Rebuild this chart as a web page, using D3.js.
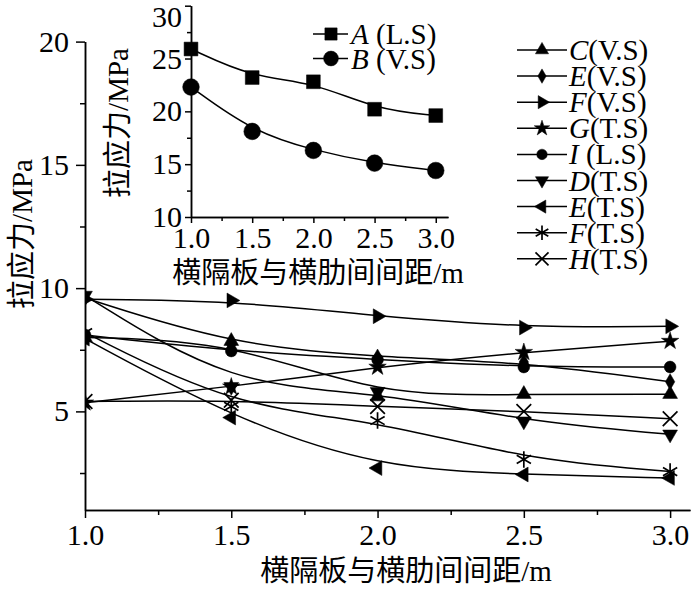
<!DOCTYPE html>
<html lang="zh">
<head>
  <meta charset="UTF-8">
  <title>拉应力 vs 间距</title>
  <script src="https://cdn.jsdelivr.net/npm/d3@7/dist/d3.min.js"></script>
  <style>
    body { margin: 0; background: #fff; }
    svg text { font-family: "Liberation Serif", "Noto Sans CJK SC", serif; fill: #000; }
    .axis path, .axis line { fill: none; stroke: #000; stroke-width: 1.5px; }
    .axis text { font-family: "Liberation Serif", serif; font-size: 30px; }
  </style>
</head>
<body>
<script>
// x values: spacing between diaphragm and cross rib (m)
var spacing = [1.0, 1.5, 2.0, 2.5, 3.0];

// main chart series (MPa)
var cVS = [8.0, 7.85, 5.6, 5.7, 5.7];
var eVS = [9.6, 7.7, 7.2, 7.0, 6.2];
var fVS = [9.55, 9.5, 8.86, 8.4, 8.45];
var gTS = [5.35, 6.0, 6.8, 7.4, 7.85];
var iLS = [8.1, 7.45, 7.1, 6.8, 6.8];
var dTS = [9.7, 6.0, 5.8, 4.6, 4.07];
var eTS = [7.95, 4.75, 2.7, 2.44, 2.3];
var fTS = [8.2, 5.2, 4.63, 3.05, 2.56];
var hTS = [5.4, 5.45, 5.2, 5.0, 4.7];

var seriesLetters = ["C", "E", "F", "G", "I", "D", "E", "F", "H"];
var seriesTags = ["(V.S)", "(V.S)", "(V.S)", "(T.S)", " (L.S)", "(T.S)", "(T.S)", "(T.S)", "(T.S)"];
var seriesMarks = ["up", "diamond", "right", "star", "circle", "down", "left", "asterisk", "times"];
var seriesValues = [cVS, eVS, fVS, gTS, iLS, dTS, eTS, fTS, hTS];

// inset series
var aLS = [25.9, 23.2, 22.8, 20.2, 19.6];
var bVS = [22.3, 18.1, 16.3, 15.1, 14.4];
var insetLetters = ["A", "B"];
var insetTags = [" (L.S)", " (V.S)"];
var insetMarks = ["square", "circle"];
var insetValues = [aLS, bVS];

// tick labels
var xTicks = [1.0, 1.5, 2.0, 2.5, 3.0];
var xMinor = [1.25, 1.75, 2.25, 2.75];
var yTicks = [5, 10, 15, 20];
var yMinor = [2.5, 7.5, 12.5, 17.5];
var insetYTicks = [10, 15, 20, 25, 30];
var insetYMinor = [12.5, 17.5, 22.5, 27.5];
var xTitle = "横隔板与横肋间间距/m";
var yTitle = "拉应力/MPa";

var w = 700, h = 590;
var svg = d3.select("body").append("svg").attr("width", w).attr("height", h);

// symbol helper, size is roughly the d3 area for filled shapes
function marker(sel, kind, size) {
  var type = d3.symbolTriangle, rot = 0, stroked = false, s = size;
  if (kind == "down") rot = 180;
  if (kind == "right") rot = 90;
  if (kind == "left") rot = -90;
  if (kind == "diamond") { type = d3.symbolDiamond; s = size * 0.8; }
  if (kind == "star") { type = d3.symbolStar; s = size * 1.0; }
  if (kind == "circle") { type = d3.symbolCircle; s = size * 1.15; }
  if (kind == "square") type = d3.symbolSquare;
  if (kind == "asterisk") { type = d3.symbolAsterisk; stroked = true; s = size * 2.0; }
  if (kind == "times") { type = d3.symbolTimes; stroked = true; s = size * 1.5; }
  sel.attr("d", d3.symbol().type(type).size(s)())
    .attr("transform", function() { return d3.select(this).attr("transform") + " rotate(" + rot + ")"; })
    .attr("fill", stroked ? "none" : "#000")
    .attr("stroke", "#000")
    .attr("stroke-width", stroked ? 1.7 : 0.5);
}

// ---------- main chart ----------
var xScale = d3.scaleLinear().domain([1, 3.068]).range([85, 690]);
var yScale = d3.scaleLinear().domain([1, 20]).range([510, 41.6]);

svg.append("g").attr("class", "axis")
  .attr("transform", "translate(0,510)")
  .call(d3.axisBottom(xScale).tickValues(xTicks).tickFormat(d3.format(".1f")).tickSize(8).tickSizeOuter(0).tickPadding(6));
svg.append("g").attr("class", "axis")
  .attr("transform", "translate(0,510)")
  .call(d3.axisBottom(xScale).tickValues(xMinor).tickFormat("").tickSize(5).tickSizeOuter(0));
svg.append("g").attr("class", "axis")
  .attr("transform", "translate(85,0)")
  .call(d3.axisLeft(yScale).tickValues(yTicks).tickSize(9).tickSizeOuter(0).tickPadding(7));
svg.append("g").attr("class", "axis")
  .attr("transform", "translate(85,0)")
  .call(d3.axisLeft(yScale).tickValues(yMinor).tickFormat("").tickSize(5).tickSizeOuter(0));

svg.append("defs").append("clipPath").attr("id", "plotclip")
  .append("rect").attr("x", 85).attr("y", 0).attr("width", 615).attr("height", 510);

var line = d3.line().curve(d3.curveBasis)
  .x(function(d, i) { return xScale(spacing[i]); })
  .y(function(d) { return yScale(d); });

var plot = svg.append("g").attr("clip-path", "url(#plotclip)");
seriesValues.forEach(function(vals, k) {
  plot.append("path").attr("d", line(vals))
    .attr("fill", "none").attr("stroke", "#000").attr("stroke-width", 1.5);
});
seriesValues.forEach(function(vals, k) {
  plot.selectAll(null).data(vals).enter().append("path")
    .attr("transform", function(d, i) { return "translate(" + xScale(spacing[i]) + "," + yScale(d) + ")"; })
    .call(marker, seriesMarks[k], 95);
});

// legend
var leg = svg.append("g");
seriesLetters.forEach(function(letter, k) {
  var yy = 50 + k * 26.1;
  leg.append("line").attr("x1", 517).attr("x2", 567).attr("y1", yy).attr("y2", yy)
    .attr("stroke", "#000").attr("stroke-width", 1.5);
  leg.append("path").attr("transform", "translate(542," + yy + ")").call(marker, seriesMarks[k], 75);
  var t = leg.append("text").attr("x", 569).attr("y", yy + 10).attr("font-size", 29);
  t.append("tspan").attr("font-style", "italic").text(letter);
  t.append("tspan").attr("xml:space", "preserve").text(seriesTags[k]);
});

svg.append("text").attr("x", 406).attr("y", 581).attr("text-anchor", "middle")
  .attr("font-size", 29).text(xTitle);
svg.append("text").attr("transform", "translate(32,234) rotate(-90)").attr("text-anchor", "middle")
  .attr("font-size", 29).text(yTitle);

// ---------- inset ----------
var ix = d3.scaleLinear().domain([1, 3.1]).range([191, 448]);
var iy = d3.scaleLinear().domain([10, 30]).range([217, 5.7]);

svg.append("g").attr("class", "axis")
  .attr("transform", "translate(0,217)")
  .call(d3.axisBottom(ix).tickValues(xTicks).tickFormat(d3.format(".1f")).tickSize(6).tickSizeOuter(0).tickPadding(4));
svg.append("g").attr("class", "axis")
  .attr("transform", "translate(0,217)")
  .call(d3.axisBottom(ix).tickValues(xMinor).tickFormat("").tickSize(4).tickSizeOuter(0));
var iyAxis = svg.append("g").attr("class", "axis")
  .attr("transform", "translate(191,0)")
  .call(d3.axisLeft(iy).tickValues(insetYTicks).tickSize(6).tickSizeOuter(0).tickPadding(3));
// top label sits a little low so it stays inside the picture
iyAxis.selectAll(".tick text").filter(function(d) { return d == 30; }).attr("y", 11);
svg.append("g").attr("class", "axis")
  .attr("transform", "translate(191,0)")
  .call(d3.axisLeft(iy).tickValues(insetYMinor).tickFormat("").tickSize(4).tickSizeOuter(0));

var iline = d3.line().curve(d3.curveBasis)
  .x(function(d, i) { return ix(spacing[i]); })
  .y(function(d) { return iy(d); });

insetValues.forEach(function(vals, k) {
  svg.append("path").attr("d", iline(vals))
    .attr("fill", "none").attr("stroke", "#000").attr("stroke-width", 1.5);
  svg.selectAll(null).data(vals).enter().append("path")
    .attr("transform", function(d, i) { return "translate(" + ix(spacing[i]) + "," + iy(d) + ")"; })
    .call(marker, insetMarks[k], 190);
});

insetLetters.forEach(function(letter, k) {
  var yy = 34 + k * 24.5;
  svg.append("line").attr("x1", 313).attr("x2", 348).attr("y1", yy).attr("y2", yy)
    .attr("stroke", "#000").attr("stroke-width", 1.5);
  svg.append("path").attr("transform", "translate(331," + yy + ")").call(marker, insetMarks[k], 150);
  var t = svg.append("text").attr("x", 351).attr("y", yy + 10).attr("font-size", 29);
  t.append("tspan").attr("font-style", "italic").text(letter);
  t.append("tspan").attr("xml:space", "preserve").text(insetTags[k]);
});

svg.append("text").attr("x", 318).attr("y", 283).attr("text-anchor", "middle")
  .attr("font-size", 29).text(xTitle);
svg.append("text").attr("transform", "translate(128,123) rotate(-90)").attr("text-anchor", "middle")
  .attr("font-size", 29).text(yTitle);
</script>
</body>
</html>
